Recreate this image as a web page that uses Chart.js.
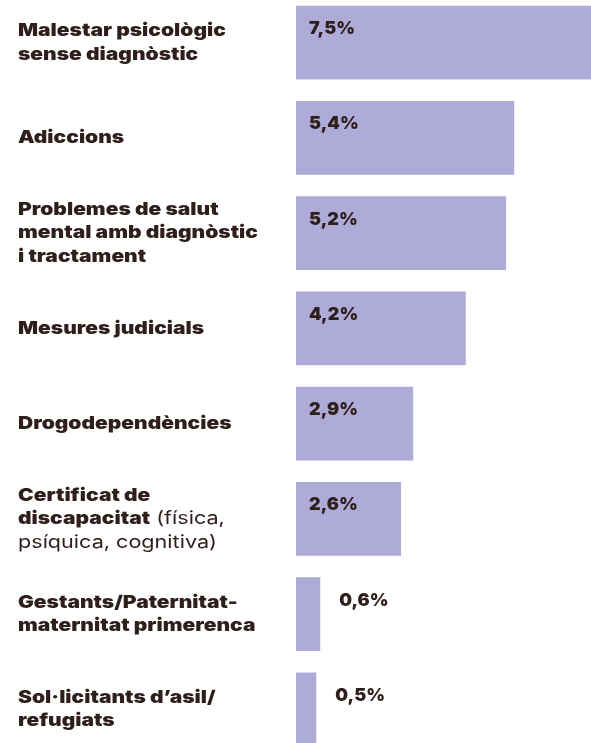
<!DOCTYPE html>
<html>
<head>
<meta charset="utf-8">
<script src="https://cdn.jsdelivr.net/npm/chart.js@4"></script>
<style>
  html, body { margin: 0; padding: 0; background: #fff; overflow: hidden; }
  #wrap { position: absolute; left: 0; top: -5px; width: 591px; height: 762px; }
</style>
</head>
<body>
<div id="wrap"><canvas id="chart"></canvas></div>
<script>
// categories: each line is a list of [text, bold] pieces
const categories = [
  [[["Malestar psicològic", true]], [["sense diagnòstic", true]]],
  [[["Adiccions", true]]],
  [[["Problemes de salut", true]], [["mental amb diagnòstic", true]], [["i tractament", true]]],
  [[["Mesures judicials", true]]],
  [[["Drogodependències", true]]],
  [[["Certificat de", true]], [["discapacitat", true], [" (física,", false]], [["psíquica, cognitiva)", false]]],
  [[["Gestants/Paternitat-", true]], [["maternitat primerenca", true]]],
  [[["Sol·licitants d’asil/", true]], [["refugiats", true]]]
];
const values = [7.5, 5.4, 5.2, 4.2, 2.9, 2.6, 0.6, 0.5];
const valueLabels = values.map(v => v.toFixed(1).replace('.', ',') + '%');

const textColor = '#2e1f1c';
const barColor = '#aeabd9';
const fontFamily = 'Inter, "DejaVu Sans", sans-serif';
const stretch = 1.2; // the original typeface is wider than Inter

const labelPlugin = {
  id: 'labels',
  afterDatasetsDraw(chart) {
    const ctx = chart.ctx;
    const y = chart.scales.y;
    const meta = chart.getDatasetMeta(0);
    const left = chart.chartArea.left;
    ctx.save();
    ctx.fillStyle = textColor;
    ctx.textBaseline = 'middle';
    ctx.textAlign = 'left';
    categories.forEach((lines, i) => {
      const cy = y.getPixelForValue(i);
      const lh = 23.5;
      const top = cy - (lines.length - 1) * lh / 2;
      lines.forEach((pieces, j) => {
        let x = 18;
        pieces.forEach(([txt, bold]) => {
          ctx.font = bold ? '900 17.5px ' + fontFamily : '400 18px ' + fontFamily;
          ctx.save();
          ctx.translate(x, top + j * lh);
          ctx.scale(stretch, 1);
          ctx.fillText(txt, 0, 0);
          ctx.restore();
          x += ctx.measureText(txt).width * stretch;
        });
      });
      // value label: inside the bar when it fits, otherwise just after it
      const bar = meta.data[i];
      const right = Math.min(bar.x, chart.chartArea.right);
      ctx.font = '900 18px ' + fontFamily;
      const w = ctx.measureText(valueLabels[i]).width;
      const lx = (right - left > w + 30) ? left + 13 : right + 19;
      ctx.fillText(valueLabels[i], lx, bar.y - bar.height / 2 + 23);
    });
    ctx.restore();
  }
};

new Chart(document.getElementById('chart'), {
  type: 'bar',
  data: {
    labels: categories.map((c, i) => 'c' + i),
    datasets: [{
      data: values,
      backgroundColor: barColor,
      borderWidth: 0,
      barPercentage: 0.776,
      categoryPercentage: 1
    }]
  },
  options: {
    indexAxis: 'y',
    responsive: true,
    maintainAspectRatio: false,
    animation: false,
    layout: { padding: { left: 296, right: 0, top: 0, bottom: 0 } },
    plugins: { legend: { display: false }, tooltip: { enabled: false } },
    scales: {
      x: { display: false, min: 0, max: 7.3 },
      y: { display: false, grid: { display: false } }
    }
  },
  plugins: [labelPlugin]
});
</script>
</body>
</html>
